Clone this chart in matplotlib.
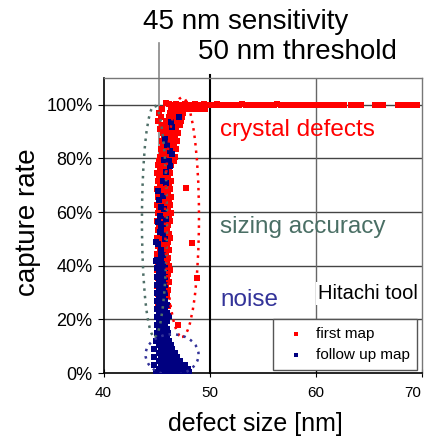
import matplotlib.pyplot as plt
from matplotlib.patches import Ellipse

plt.rcParams['font.family'] = ['Liberation Sans', 'DejaVu Sans']

# first map, points sitting on the 100 % line
red_row_x = [45.9, 46.2, 46.5, 46.8, 47.1, 47.4, 47.7, 48.0, 48.3, 48.6,
             48.9, 49.2, 49.5, 49.8, 50.1, 50.4, 50.7, 51.0, 51.3, 51.6,
             51.9, 52.2, 52.5, 52.8, 53.1, 53.4, 53.7, 54.0, 54.3, 54.6,
             54.9, 55.2, 55.5, 55.8, 56.1, 56.4, 56.7, 57.0, 57.3, 57.6,
             57.9, 58.2, 58.5, 58.8, 59.1, 59.4, 59.7, 60.0, 60.3, 60.8,
             61.1, 61.4, 61.7, 62.0, 62.3, 62.7, 63.3, 63.6, 63.9, 64.3,
             65.6, 66.1, 66.4, 67.8, 68.1, 68.4, 68.7, 69.0, 69.3, 69.6]
red_row_y = [100.6, 100.2, 99.8, 100.4, 100.0, 99.7, 100.3, 100.0, 99.8, 100.2,
             100.0, 99.8, 100.1, 100.0, 99.9, 100.0, 100.1, 99.9, 100.0, 100.0,
             100.0, 99.9, 100.0, 100.0, 100.1, 100.0, 99.9, 100.0, 100.0, 100.0,
             100.0, 100.0, 99.9, 100.0, 100.0, 100.1, 100.0, 100.0, 99.9, 100.0,
             100.0, 100.0, 100.0, 99.9, 100.0, 100.0, 100.0, 100.0, 100.0, 100.0,
             100.0, 100.0, 100.0, 100.0, 100.0, 100.0, 100.0, 100.0, 100.0, 100.0,
             100.0, 100.0, 100.0, 100.0, 100.0, 100.0, 100.0, 100.0, 100.0, 100.0]

# first map, the narrow column around 45-47 nm (one line per capture-rate level)
red_col_x = [45.5, 46.4, 46.8, 47.2, 47.7, 48.2, 48.7, 49.2, 49.6,
             45.2, 46.3, 46.7, 47.1, 47.5,
             45.4, 46.2, 46.6, 47.0, 47.4,
             45.1, 45.9, 46.4, 46.9, 47.3,
             45.5, 46.1, 46.6, 47.2,
             45.3, 45.8, 46.3, 46.8,
             45.6, 46.0, 46.5, 47.0,
             45.7, 46.2, 46.7,
             45.5, 45.9, 46.4, 46.9,
             45.6, 46.1, 46.6,
             45.4, 45.8, 46.3, 46.8,
             45.5, 46.0, 46.5,
             45.3, 45.7, 46.2, 46.7,
             45.2, 45.6, 46.1, 46.6,
             45.1, 45.5, 46.0, 46.4,
             45.3, 45.7, 46.2,
             45.0, 45.4, 45.9, 46.3,
             45.2, 45.6, 46.1,
             45.1, 45.5, 45.9, 46.4,
             45.3, 45.8, 46.2,
             45.0, 45.4, 45.9, 46.3,
             45.2, 45.6, 46.1,
             45.1, 45.5, 46.0, 46.4,
             45.3, 45.7, 46.2,
             45.0, 45.4, 45.9, 46.3,
             45.2, 45.6, 46.1,
             45.1, 45.5, 46.0, 46.4,
             45.3, 45.8, 46.2,
             45.0, 45.4, 45.9, 46.3,
             45.2, 45.6, 46.1,
             45.1, 45.5, 46.0,
             45.3, 45.7, 46.2,
             45.0, 45.4, 45.9, 46.3,
             45.2, 45.6, 46.1,
             45.1, 45.5, 46.0,
             45.3, 45.7, 46.2,
             45.0, 45.4, 45.9,
             45.2, 45.6, 46.1,
             45.1, 45.5, 46.0,
             45.3, 45.7, 46.2,
             45.0, 45.4, 45.9, 46.3,
             45.2, 45.6, 46.1,
             45.1, 45.5, 46.0,
             45.3, 45.8, 46.2,
             45.0, 45.4, 45.9,
             45.2, 45.6, 46.1,
             45.1, 45.5, 46.0,
             46.0,
             45.3, 45.7,
             45.1, 45.6, 46.1,
             45.2, 45.7,
             45.9,
             45.3, 45.8,
             45.2, 45.7]
red_col_y = [98.3, 98.3, 98.3, 98.3, 98.3, 98.3, 98.3, 98.3, 98.3,
             97.0, 97.0, 97.0, 97.0, 97.0,
             95.5, 95.5, 95.5, 95.5, 95.5,
             94.0, 94.0, 94.0, 94.0, 94.0,
             92.5, 92.5, 92.5, 92.5,
             91.0, 91.0, 91.0, 91.0,
             89.5, 89.5, 89.5, 89.5,
             88.0, 88.0, 88.0,
             86.5, 86.5, 86.5, 86.5,
             85.0, 85.0, 85.0,
             83.5, 83.5, 83.5, 83.5,
             82.0, 82.0, 82.0,
             80.5, 80.5, 80.5, 80.5,
             79.0, 79.0, 79.0, 79.0,
             77.5, 77.5, 77.5, 77.5,
             76.0, 76.0, 76.0,
             74.5, 74.5, 74.5, 74.5,
             73.0, 73.0, 73.0,
             71.5, 71.5, 71.5, 71.5,
             70.0, 70.0, 70.0,
             68.5, 68.5, 68.5, 68.5,
             67.0, 67.0, 67.0,
             65.5, 65.5, 65.5, 65.5,
             64.0, 64.0, 64.0,
             62.5, 62.5, 62.5, 62.5,
             61.0, 61.0, 61.0,
             59.5, 59.5, 59.5, 59.5,
             58.0, 58.0, 58.0,
             56.5, 56.5, 56.5, 56.5,
             55.0, 55.0, 55.0,
             53.5, 53.5, 53.5,
             52.0, 52.0, 52.0,
             50.5, 50.5, 50.5, 50.5,
             49.0, 49.0, 49.0,
             47.5, 47.5, 47.5,
             46.0, 46.0, 46.0,
             44.5, 44.5, 44.5,
             43.0, 43.0, 43.0,
             41.5, 41.5, 41.5,
             40.0, 40.0, 40.0,
             38.5, 38.5, 38.5, 38.5,
             37.0, 37.0, 37.0,
             35.5, 35.5, 35.5,
             34.0, 34.0, 34.0,
             32.5, 32.5, 32.5,
             31.0, 31.0, 31.0,
             29.5, 29.5, 29.5,
             28.7,
             27.0, 27.0,
             25.0, 25.0, 25.0,
             23.0, 23.0,
             20.9,
             19.0, 19.0,
             17.0, 17.0]

# first map, isolated points right of the column
red_out_x = [47.8, 48.3, 48.8, 47.05]
red_out_y = [68.8, 48.3, 35.4, 17.8]

# follow up map
blue_x = [47.1, 46.4, 46.5, 45.8, 46.0, 46.3, 46.5, 45.7, 46.2, 46.3,
          45.9, 45.6, 45.9, 45.1, 45.6, 45.2, 45.4, 45.7, 45.3, 45.1,
          45.6, 45.9, 45.4, 45.6, 45.3, 44.9, 45.8, 45.4, 45.1, 45.6,
          45.4, 44.9,
          45.0, 45.4,
          45.2, 45.6,
          45.0, 45.4, 45.8,
          45.2, 45.6,
          45.0, 45.4, 45.8,
          45.2, 45.6,
          45.0, 45.4, 45.8,
          45.2, 45.6,
          45.0, 45.4, 45.8,
          45.2, 45.6,
          45.0, 45.4, 45.8,
          45.2, 45.6, 46.0,
          45.0, 45.4, 45.8,
          45.2, 45.6, 46.0,
          46.2,
          45.0, 45.4, 45.8,
          45.2, 45.6, 46.0,
          45.0, 45.4, 45.8,
          45.2, 45.6, 46.0,
          45.0, 45.4, 45.8, 46.1,
          45.2, 45.6, 46.0,
          44.9, 45.4, 45.8, 46.2,
          45.2, 45.6, 46.0, 46.4,
          44.8, 45.4, 45.8, 46.2, 46.5,
          45.2, 45.6, 46.0, 46.4, 46.7,
          44.8, 45.4, 45.8, 46.2, 46.6, 46.9,
          45.2, 45.6, 46.0, 46.4, 46.8, 47.2,
          44.8, 45.4, 45.8, 46.2, 46.6, 47.0, 47.4, 47.7,
          45.2, 45.6, 46.0, 46.4, 46.8, 47.2, 47.6, 48.0,
          44.9, 45.4, 45.8, 46.2, 46.6, 47.0, 47.4, 47.8, 48.1]
blue_y = [95.3, 93.4, 91.5, 87.2, 85.0, 82.9, 81.6, 79.5, 79.2, 77.3,
          74.8, 71.7, 71.0, 68.0, 66.0, 64.5, 61.8, 61.3, 58.7, 56.4,
          55.6, 57.6, 53.9, 52.1, 52.5, 49.0, 50.0, 46.0, 48.2, 44.0,
          44.4, 41.7,
          42.0, 42.0,
          40.5, 40.5,
          39.0, 39.0, 39.0,
          37.5, 37.5,
          36.0, 36.0, 36.0,
          34.5, 34.5,
          33.0, 33.0, 33.0,
          31.5, 31.5,
          30.0, 30.0, 30.0,
          28.5, 28.5,
          27.0, 27.0, 27.0,
          25.5, 25.5, 25.5,
          24.0, 24.0, 24.0,
          22.5, 22.5, 22.5,
          21.3,
          21.0, 21.0, 21.0,
          19.5, 19.5, 19.5,
          18.0, 18.0, 18.0,
          16.5, 16.5, 16.5,
          15.0, 15.0, 15.0, 15.0,
          13.5, 13.5, 13.5,
          12.0, 12.0, 12.0, 12.0,
          10.5, 10.5, 10.5, 10.5,
          9.0, 9.0, 9.0, 9.0, 9.0,
          7.5, 7.5, 7.5, 7.5, 7.5,
          6.0, 6.0, 6.0, 6.0, 6.0, 6.0,
          4.5, 4.5, 4.5, 4.5, 4.5, 4.5,
          3.0, 3.0, 3.0, 3.0, 3.0, 3.0, 3.0, 3.0,
          1.5, 1.5, 1.5, 1.5, 1.5, 1.5, 1.5, 1.5,
          0.5, 0.5, 0.5, 0.5, 0.5, 0.5, 0.5, 0.5, 0.5]

y_ticks = [0, 20, 40, 60, 80, 100]
x_ticks = [40, 50, 60, 70]

red = '#ff0000'
navy = '#000080'

fig = plt.figure(figsize=(4.28, 4.37), dpi=100)
ax = fig.add_axes([0.242, 0.146, 0.743, 0.676])

# grid first so the points sit on top
for y in [20, 40, 60, 80, 100]:
    ax.axhline(y, color='#444444', lw=1.0, zorder=1)
ax.axvline(60, color='#666666', lw=1.0, zorder=1)
ax.plot([50, 50], [0, 111], color='black', lw=1.5, clip_on=False, zorder=1)
ax.plot([45.25, 45.25], [0, 123], color='#888888', lw=1.2, clip_on=False, zorder=1)

ax.scatter(red_row_x + red_col_x + red_out_x, red_row_y + red_col_y + red_out_y,
           marker='s', s=19, color=red, linewidths=0, zorder=3, label='first map')
ax.scatter(blue_x, blue_y, marker='s', s=19, color=navy, linewidths=0,
           zorder=4, label='follow up map')

# dotted rings around the groups
ax.add_patch(Ellipse((44.8, 56.6), 2.36, 86, fill=False, ls=(0, (1, 2)),
                     lw=1.8, color='#4f6f68', zorder=5))
ax.add_patch(Ellipse((47.4, 58.1), 3.2, 89.2, fill=False, ls=(0, (1, 2)),
                     lw=1.8, color=red, zorder=5))
ax.add_patch(Ellipse((46.46, 6.9), 5.0, 15.2, fill=False, ls=(0, (1, 2)),
                     lw=1.8, color='#333399', zorder=5))

ax.text(51.0, 90.4, 'crystal defects', color=red, fontsize=17.5, va='center')
ax.text(51.0, 54.4, 'sizing accuracy', color='#4a6f65', fontsize=17.5, va='center')
ax.text(51.0, 27.2, 'noise', color='#333399', fontsize=17.5, va='center')
ax.text(60.25, 29.8, 'Hitachi tool', color='black', fontsize=14.5, va='center',
        bbox=dict(facecolor='white', edgecolor='none', pad=1.5), zorder=6)

ax.set_xlim(40, 70)
ax.set_ylim(0, 110)
ax.set_xticks(x_ticks)
ax.set_yticks(y_ticks)
ax.set_yticklabels([f'{t}%' for t in y_ticks], fontsize=13)
ax.set_xticklabels([str(t) for t in x_ticks], fontsize=11)
ax.tick_params(axis='x', direction='inout', length=6, pad=6)
ax.tick_params(axis='y', direction='out', length=4, pad=4)
# keep the last x label inside the picture
ax.get_xticklabels()[-1].set_ha('right')

for side in ['left', 'bottom']:
    ax.spines[side].set_color('black')
    ax.spines[side].set_linewidth(1.2)
for side in ['top', 'right']:
    ax.spines[side].set_color('#777777')
    ax.spines[side].set_linewidth(1.0)

leg = ax.legend(loc='lower right', bbox_to_anchor=(0.987, 0.011), fontsize=11,
                frameon=True, fancybox=False, framealpha=1, edgecolor='#555555',
                markerscale=0.6, handletextpad=0.3, borderpad=0.5,
                labelspacing=0.5, borderaxespad=0)
leg.set_zorder(7)

fig.text(0.575, 0.950, '45 nm sensitivity', fontsize=20, ha='center', va='center')
fig.text(0.694, 0.881, '50 nm threshold', fontsize=20, ha='center', va='center')
fig.text(0.065, 0.492, 'capture rate', fontsize=20, rotation=90, ha='center', va='center')
fig.text(0.596, 0.030, 'defect size [nm]', fontsize=18, ha='center', va='center')

fig.savefig('out.png', dpi=100)
